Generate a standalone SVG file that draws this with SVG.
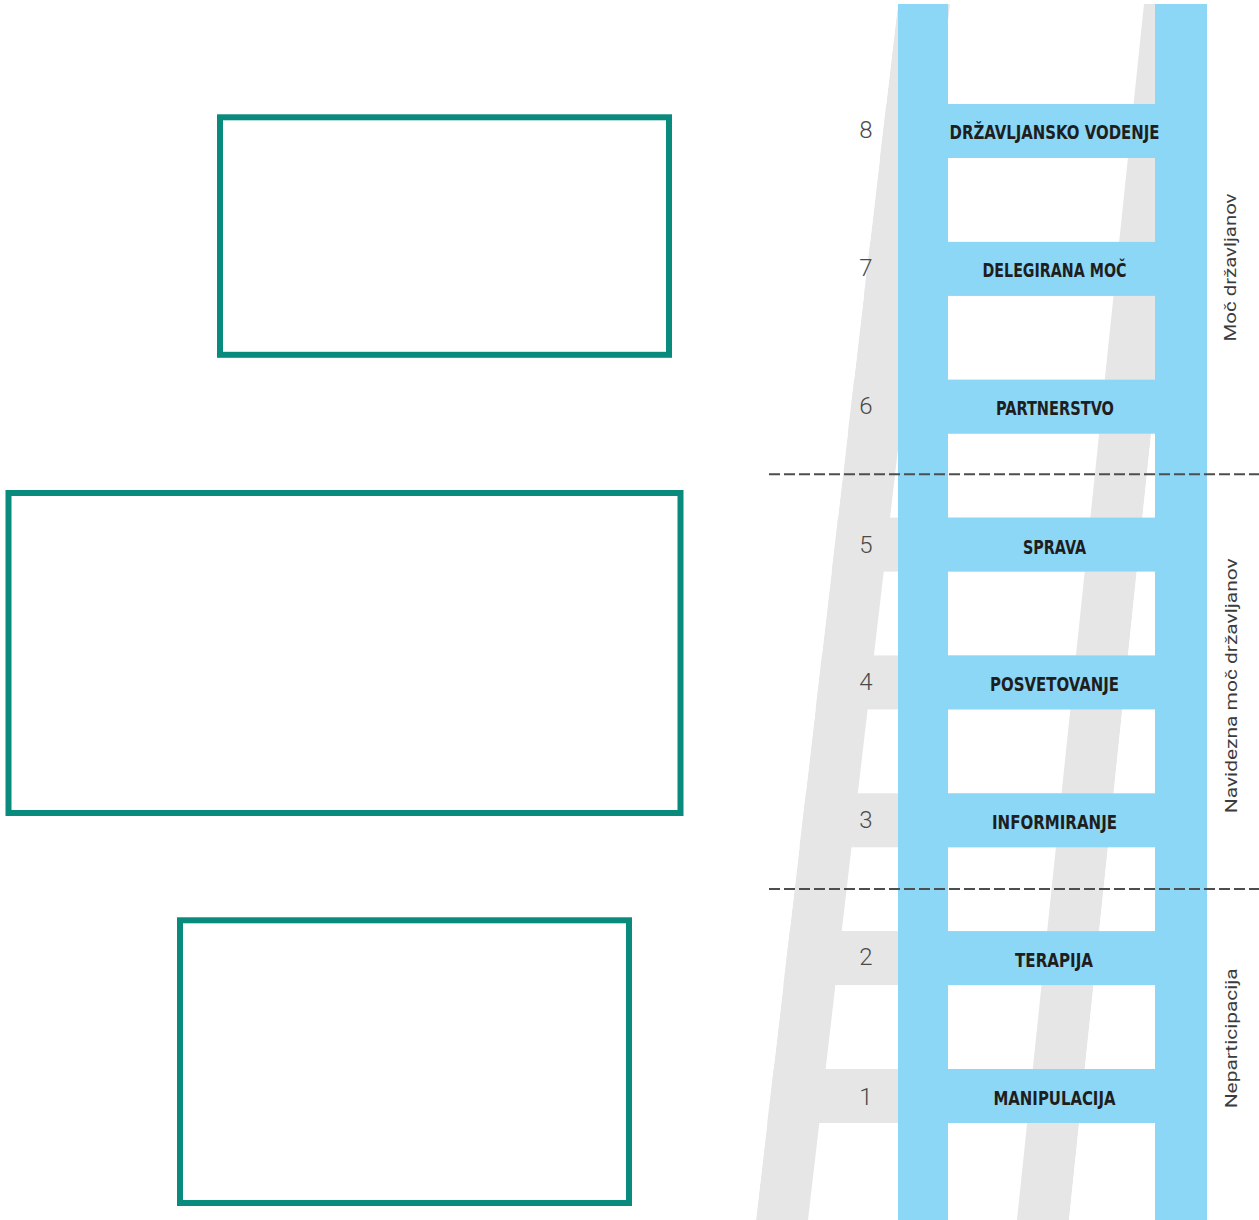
<svg xmlns="http://www.w3.org/2000/svg" width="1259" height="1220" viewBox="0 0 1259 1220">
  <style>
    .box { fill: none; stroke: #088A7D; stroke-width: 6; }
    .shadow { fill: #E6E6E6; }
    .blue { fill: #8DD7F6; }
    .num { font-family: Roboto, "DejaVu Sans", sans-serif; font-weight: 300; font-size: 24px; fill: #4a4a4a; text-anchor: middle; }
    .rung { font-family: "DejaVu Sans Condensed", "DejaVu Sans", sans-serif; font-weight: bold; font-size: 19px; fill: #1e1e1e; text-anchor: middle; }
    .side { font-family: Roboto, "Liberation Sans", sans-serif; font-size: 17px; fill: #3c3c3c; text-anchor: middle; }
    .sep { stroke: #4d4d4d; stroke-width: 2; stroke-dasharray: 11 4; fill: none; }
  </style>
  <defs>
    <clipPath id="shadowClip">
      <polygon points="898,4 1196,4 1069,1220 756,1220"/>
    </clipPath>
  </defs>
  <rect width="1259" height="1220" fill="#ffffff"/>

  <g id="box-1"><rect class="box" x="220" y="117.3" width="449" height="237.5"/></g>
  <g id="box-2"><rect class="box" x="8.5" y="493" width="672" height="320"/></g>
  <g id="box-3"><rect class="box" x="180" y="920.3" width="449" height="282.7"/></g>

  <g id="ladder-shadow" clip-path="url(#shadowClip)">
    <polygon class="shadow" points="898,4 950,4 808,1220 756,1220"/>
    <polygon class="shadow" points="1144,4 1196,4 1069,1220 1017,1220"/>
    <rect class="shadow" x="700" y="104" width="520" height="54"/>
    <rect class="shadow" x="700" y="241.9" width="520" height="54"/>
    <rect class="shadow" x="700" y="379.7" width="520" height="54"/>
    <rect class="shadow" x="700" y="517.6" width="520" height="54"/>
    <rect class="shadow" x="700" y="655.4" width="520" height="54"/>
    <rect class="shadow" x="700" y="793.3" width="520" height="54"/>
    <rect class="shadow" x="700" y="931.1" width="520" height="54"/>
    <rect class="shadow" x="700" y="1069" width="520" height="54"/>
  </g>

  <g id="ladder-rails">
    <rect class="blue" x="898" y="4" width="50" height="1216"/>
    <rect class="blue" x="1155" y="4" width="52" height="1216"/>
  </g>

  <g id="rung-8">
    <rect class="blue" x="948" y="104" width="207" height="54"/>
    <text class="rung" x="1054.5" y="139.3" textLength="210" lengthAdjust="spacingAndGlyphs">DRŽAVLJANSKO VODENJE</text>
    <text class="num" x="866" y="137.5">8</text>
  </g>
  <g id="rung-7">
    <rect class="blue" x="948" y="241.9" width="207" height="54"/>
    <text class="rung" x="1054.5" y="276.7" textLength="144" lengthAdjust="spacingAndGlyphs">DELEGIRANA MOČ</text>
    <text class="num" x="866" y="276">7</text>
  </g>
  <g id="rung-6">
    <rect class="blue" x="948" y="379.7" width="207" height="54"/>
    <text class="rung" x="1055" y="415" textLength="118" lengthAdjust="spacingAndGlyphs">PARTNERSTVO</text>
    <text class="num" x="866" y="414">6</text>
  </g>
  <g id="rung-5">
    <rect class="blue" x="948" y="517.6" width="207" height="54"/>
    <text class="rung" x="1054.5" y="553.5" textLength="63" lengthAdjust="spacingAndGlyphs">SPRAVA</text>
    <text class="num" x="866" y="553">5</text>
  </g>
  <g id="rung-4">
    <rect class="blue" x="948" y="655.4" width="207" height="54"/>
    <text class="rung" x="1054.5" y="691" textLength="129" lengthAdjust="spacingAndGlyphs">POSVETOVANJE</text>
    <text class="num" x="866" y="690">4</text>
  </g>
  <g id="rung-3">
    <rect class="blue" x="948" y="793.3" width="207" height="54"/>
    <text class="rung" x="1054.5" y="829" textLength="125" lengthAdjust="spacingAndGlyphs">INFORMIRANJE</text>
    <text class="num" x="866" y="828">3</text>
  </g>
  <g id="rung-2">
    <rect class="blue" x="948" y="931.1" width="207" height="54"/>
    <text class="rung" x="1054" y="966.7" textLength="78" lengthAdjust="spacingAndGlyphs">TERAPIJA</text>
    <text class="num" x="866" y="965">2</text>
  </g>
  <g id="rung-1">
    <rect class="blue" x="948" y="1069" width="207" height="54"/>
    <text class="rung" x="1054.5" y="1105" textLength="122" lengthAdjust="spacingAndGlyphs">MANIPULACIJA</text>
    <text class="num" x="866" y="1105">1</text>
  </g>

  <g id="separators">
    <line class="sep" x1="769" y1="474.3" x2="1259" y2="474.3"/>
    <line class="sep" x1="769" y1="889" x2="1259" y2="889"/>
  </g>

  <g id="group-labels">
    <text class="side" transform="translate(1236,267.5) rotate(-90)" textLength="148" lengthAdjust="spacingAndGlyphs">Moč državljanov</text>
    <text class="side" transform="translate(1236.5,685.8) rotate(-90)" textLength="255" lengthAdjust="spacingAndGlyphs">Navidezna moč državljanov</text>
    <text class="side" transform="translate(1236.5,1038.3) rotate(-90)" textLength="140" lengthAdjust="spacingAndGlyphs">Neparticipacija</text>
  </g>
</svg>
